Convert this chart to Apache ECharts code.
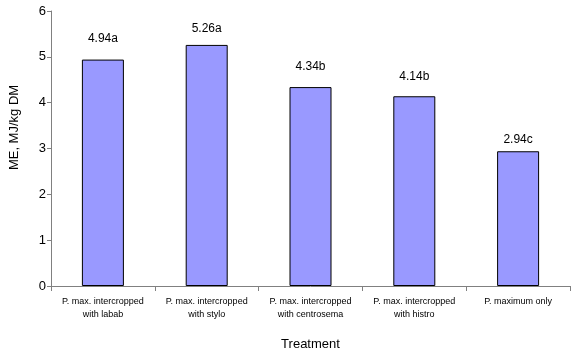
<!DOCTYPE html>
<html><head><meta charset="utf-8">
<script src="https://cdn.jsdelivr.net/npm/echarts@6/dist/echarts.min.js"></script>
<style>html,body{margin:0;padding:0;background:#fff}#c{width:580px;height:354px}</style>
</head><body><div id="c"></div>
<script>
const categories = ["P. max. intercropped\nwith labab","P. max. intercropped\nwith stylo","P. max. intercropped\nwith centrosema","P. max. intercropped\nwith histro","P. maximum only"];
const values = [4.94, 5.26, 4.34, 4.14, 2.94];
const letters = ["a","a","b","b","c"];
const yTicks = [0,1,2,3,4,5,6];
const chart = echarts.init(document.getElementById('c'));
const font = '"Liberation Sans", Arial, sans-serif';
const labelGap = (i) => [15, 10, 14, 14, 6][i];
chart.setOption({
  animation:false,
  backgroundColor:'#fff',
  grid:{left:51,right:10,top:11,bottom:68,containLabel:false,outerBoundsMode:'none'},
  xAxis:{type:'category',data:categories,
    name:'Treatment',nameLocation:'middle',nameGap:52,
    nameTextStyle:{fontFamily:font,fontSize:13,color:'#000'},
    axisLine:{lineStyle:{color:'#808080',width:1}},
    axisTick:{show:true,alignWithLabel:false,length:5,lineStyle:{color:'#808080'}},
    axisLabel:{fontFamily:font,fontSize:9,color:'#000',margin:9,lineHeight:13,interval:0}},
  yAxis:{type:'value',min:0,max:6,interval:1,
    name:'ME, MJ/kg DM',nameLocation:'middle',nameGap:30,nameRotate:90,
    nameTextStyle:{fontFamily:font,fontSize:13,color:'#000',padding:[0,0,0,42]},
    axisLine:{show:true,lineStyle:{color:'#808080',width:1}},
    axisTick:{show:true,length:4,lineStyle:{color:'#808080'}},
    splitLine:{show:false},
    axisLabel:{fontFamily:font,fontSize:13,color:'#000',margin:5,
      formatter:v=>yTicks.includes(v)?String(v):''}},
  series:[{type:'bar',barWidth:42,
    data:values.map((v,i)=>({value:v,label:{distance:labelGap(i)}})),
    itemStyle:{color:'#9999FF',borderColor:'#000',borderWidth:1},
    label:{show:true,position:'top',distance:15,fontFamily:font,fontSize:12,color:'#000',
      formatter:p=>values[p.dataIndex].toFixed(2)+letters[p.dataIndex]}}]
});
</script></body></html>
